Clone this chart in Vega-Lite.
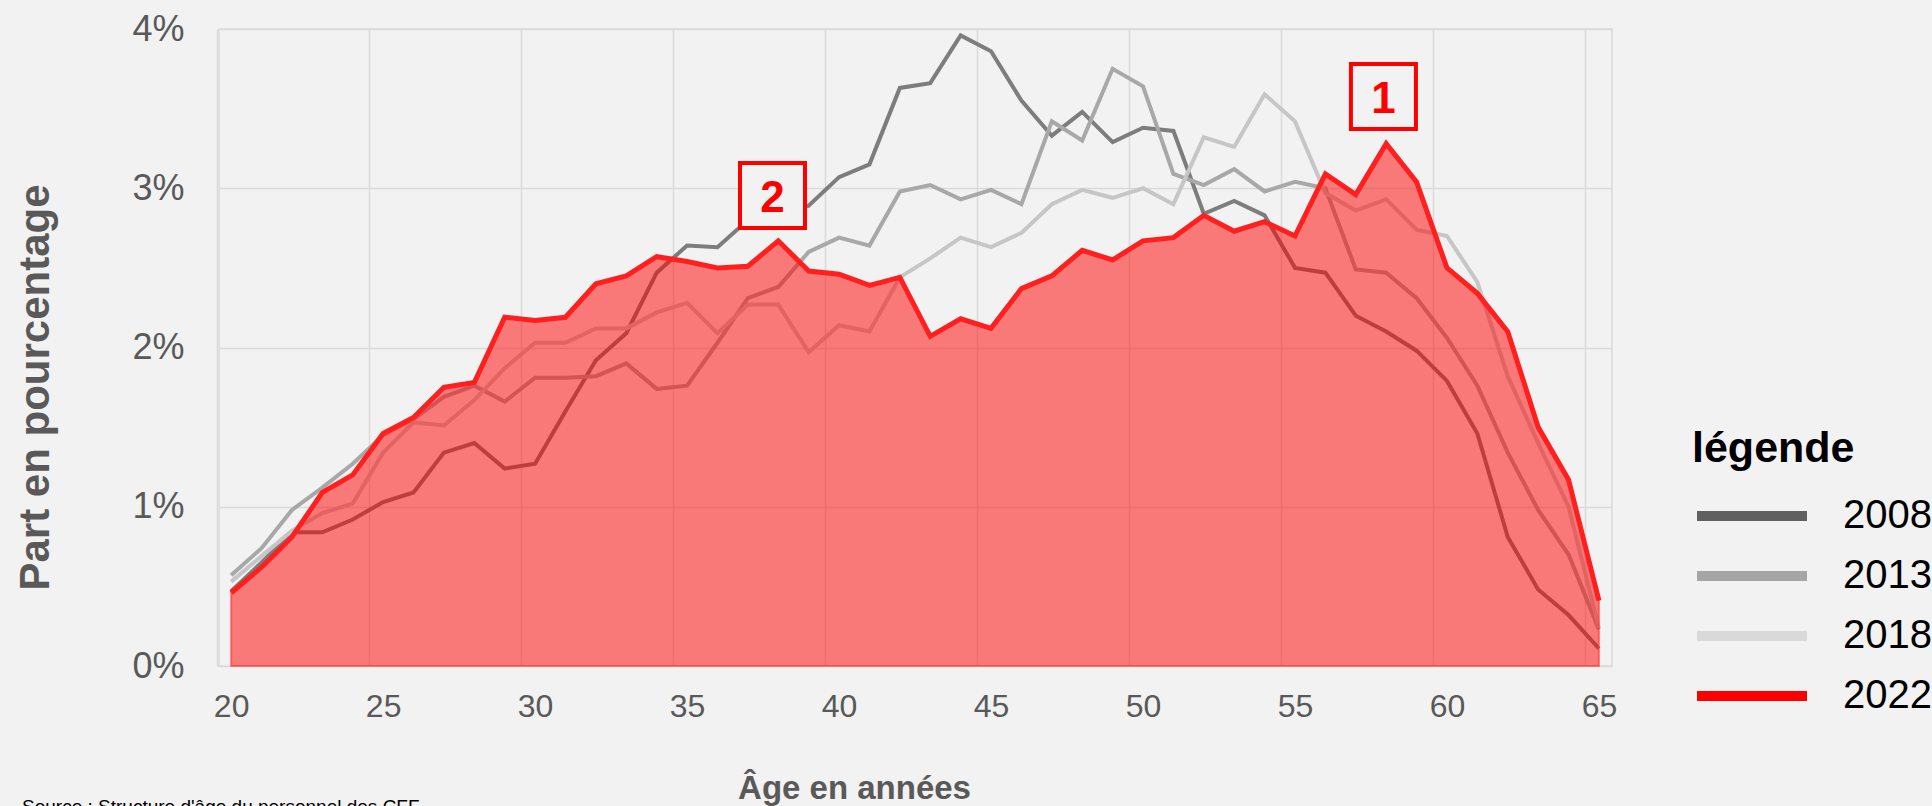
{
"$schema": "https://vega.github.io/schema/vega-lite/v6.json",
"width": 1393,
"height": 637,
"autosize": {"type": "none"},
"padding": {"left": 219, "top": 29, "right": 320, "bottom": 140},
"background": "#f2f2f2",
"title": {"text": "Source : Structure d'âge du personnel des CFF", "orient": "bottom", "anchor": "start", "frame": "bounds", "dx": 8, "offset": -7, "fontSize": 19, "font": "Liberation Sans", "fontWeight": "normal", "color": "#000000", "baseline": "top"},
"config": {
  "view": {"stroke": "#d9d9d9", "strokeWidth": 1.5},
  "font": "Liberation Sans",
  "axis": {"gridColor": "#dadada", "gridWidth": 1.5}
},
"datasets": {
"series": [
{"age":20,"year":"2008","pct":0.47},{"age":21,"year":"2008","pct":0.65},{"age":22,"year":"2008","pct":0.84},{"age":23,"year":"2008","pct":0.84},{"age":24,"year":"2008","pct":0.92},{"age":25,"year":"2008","pct":1.03},{"age":26,"year":"2008","pct":1.09},{"age":27,"year":"2008","pct":1.34},{"age":28,"year":"2008","pct":1.40},{"age":29,"year":"2008","pct":1.24},{"age":30,"year":"2008","pct":1.27},{"age":31,"year":"2008","pct":1.60},{"age":32,"year":"2008","pct":1.92},{"age":33,"year":"2008","pct":2.09},{"age":34,"year":"2008","pct":2.47},{"age":35,"year":"2008","pct":2.64},{"age":36,"year":"2008","pct":2.63},{"age":37,"year":"2008","pct":2.80},{"age":38,"year":"2008","pct":2.84},{"age":39,"year":"2008","pct":2.89},{"age":40,"year":"2008","pct":3.07},{"age":41,"year":"2008","pct":3.15},{"age":42,"year":"2008","pct":3.63},{"age":43,"year":"2008","pct":3.66},{"age":44,"year":"2008","pct":3.96},{"age":45,"year":"2008","pct":3.86},{"age":46,"year":"2008","pct":3.55},{"age":47,"year":"2008","pct":3.33},{"age":48,"year":"2008","pct":3.48},{"age":49,"year":"2008","pct":3.29},{"age":50,"year":"2008","pct":3.38},{"age":51,"year":"2008","pct":3.36},{"age":52,"year":"2008","pct":2.84},{"age":53,"year":"2008","pct":2.92},{"age":54,"year":"2008","pct":2.83},{"age":55,"year":"2008","pct":2.50},{"age":56,"year":"2008","pct":2.47},{"age":57,"year":"2008","pct":2.20},{"age":58,"year":"2008","pct":2.10},{"age":59,"year":"2008","pct":1.98},{"age":60,"year":"2008","pct":1.79},{"age":61,"year":"2008","pct":1.46},{"age":62,"year":"2008","pct":0.81},{"age":63,"year":"2008","pct":0.48},{"age":64,"year":"2008","pct":0.32},{"age":65,"year":"2008","pct":0.11},
{"age":20,"year":"2013","pct":0.57},{"age":21,"year":"2013","pct":0.74},{"age":22,"year":"2013","pct":0.98},{"age":23,"year":"2013","pct":1.12},{"age":24,"year":"2013","pct":1.27},{"age":25,"year":"2013","pct":1.45},{"age":26,"year":"2013","pct":1.55},{"age":27,"year":"2013","pct":1.69},{"age":28,"year":"2013","pct":1.76},{"age":29,"year":"2013","pct":1.66},{"age":30,"year":"2013","pct":1.81},{"age":31,"year":"2013","pct":1.81},{"age":32,"year":"2013","pct":1.82},{"age":33,"year":"2013","pct":1.90},{"age":34,"year":"2013","pct":1.74},{"age":35,"year":"2013","pct":1.76},{"age":36,"year":"2013","pct":2.03},{"age":37,"year":"2013","pct":2.31},{"age":38,"year":"2013","pct":2.38},{"age":39,"year":"2013","pct":2.60},{"age":40,"year":"2013","pct":2.69},{"age":41,"year":"2013","pct":2.64},{"age":42,"year":"2013","pct":2.98},{"age":43,"year":"2013","pct":3.02},{"age":44,"year":"2013","pct":2.93},{"age":45,"year":"2013","pct":2.99},{"age":46,"year":"2013","pct":2.90},{"age":47,"year":"2013","pct":3.42},{"age":48,"year":"2013","pct":3.30},{"age":49,"year":"2013","pct":3.75},{"age":50,"year":"2013","pct":3.64},{"age":51,"year":"2013","pct":3.09},{"age":52,"year":"2013","pct":3.02},{"age":53,"year":"2013","pct":3.12},{"age":54,"year":"2013","pct":2.98},{"age":55,"year":"2013","pct":3.04},{"age":56,"year":"2013","pct":3.00},{"age":57,"year":"2013","pct":2.49},{"age":58,"year":"2013","pct":2.47},{"age":59,"year":"2013","pct":2.31},{"age":60,"year":"2013","pct":2.06},{"age":61,"year":"2013","pct":1.76},{"age":62,"year":"2013","pct":1.34},{"age":63,"year":"2013","pct":0.98},{"age":64,"year":"2013","pct":0.70},{"age":65,"year":"2013","pct":0.23},
{"age":20,"year":"2018","pct":0.53},{"age":21,"year":"2018","pct":0.69},{"age":22,"year":"2018","pct":0.85},{"age":23,"year":"2018","pct":0.96},{"age":24,"year":"2018","pct":1.02},{"age":25,"year":"2018","pct":1.34},{"age":26,"year":"2018","pct":1.53},{"age":27,"year":"2018","pct":1.51},{"age":28,"year":"2018","pct":1.67},{"age":29,"year":"2018","pct":1.87},{"age":30,"year":"2018","pct":2.03},{"age":31,"year":"2018","pct":2.03},{"age":32,"year":"2018","pct":2.12},{"age":33,"year":"2018","pct":2.12},{"age":34,"year":"2018","pct":2.22},{"age":35,"year":"2018","pct":2.28},{"age":36,"year":"2018","pct":2.09},{"age":37,"year":"2018","pct":2.27},{"age":38,"year":"2018","pct":2.27},{"age":39,"year":"2018","pct":1.97},{"age":40,"year":"2018","pct":2.14},{"age":41,"year":"2018","pct":2.10},{"age":42,"year":"2018","pct":2.44},{"age":43,"year":"2018","pct":2.56},{"age":44,"year":"2018","pct":2.69},{"age":45,"year":"2018","pct":2.63},{"age":46,"year":"2018","pct":2.72},{"age":47,"year":"2018","pct":2.90},{"age":48,"year":"2018","pct":2.99},{"age":49,"year":"2018","pct":2.94},{"age":50,"year":"2018","pct":3.00},{"age":51,"year":"2018","pct":2.90},{"age":52,"year":"2018","pct":3.32},{"age":53,"year":"2018","pct":3.26},{"age":54,"year":"2018","pct":3.59},{"age":55,"year":"2018","pct":3.42},{"age":56,"year":"2018","pct":2.97},{"age":57,"year":"2018","pct":2.86},{"age":58,"year":"2018","pct":2.93},{"age":59,"year":"2018","pct":2.74},{"age":60,"year":"2018","pct":2.70},{"age":61,"year":"2018","pct":2.41},{"age":62,"year":"2018","pct":1.82},{"age":63,"year":"2018","pct":1.40},{"age":64,"year":"2018","pct":1.00},{"age":65,"year":"2018","pct":0.24},
{"age":20,"year":"2022","pct":0.46},{"age":21,"year":"2022","pct":0.62},{"age":22,"year":"2022","pct":0.81},{"age":23,"year":"2022","pct":1.09},{"age":24,"year":"2022","pct":1.20},{"age":25,"year":"2022","pct":1.46},{"age":26,"year":"2022","pct":1.56},{"age":27,"year":"2022","pct":1.75},{"age":28,"year":"2022","pct":1.78},{"age":29,"year":"2022","pct":2.19},{"age":30,"year":"2022","pct":2.17},{"age":31,"year":"2022","pct":2.19},{"age":32,"year":"2022","pct":2.40},{"age":33,"year":"2022","pct":2.45},{"age":34,"year":"2022","pct":2.57},{"age":35,"year":"2022","pct":2.54},{"age":36,"year":"2022","pct":2.50},{"age":37,"year":"2022","pct":2.51},{"age":38,"year":"2022","pct":2.67},{"age":39,"year":"2022","pct":2.48},{"age":40,"year":"2022","pct":2.46},{"age":41,"year":"2022","pct":2.39},{"age":42,"year":"2022","pct":2.44},{"age":43,"year":"2022","pct":2.07},{"age":44,"year":"2022","pct":2.18},{"age":45,"year":"2022","pct":2.12},{"age":46,"year":"2022","pct":2.37},{"age":47,"year":"2022","pct":2.45},{"age":48,"year":"2022","pct":2.61},{"age":49,"year":"2022","pct":2.55},{"age":50,"year":"2022","pct":2.67},{"age":51,"year":"2022","pct":2.69},{"age":52,"year":"2022","pct":2.83},{"age":53,"year":"2022","pct":2.73},{"age":54,"year":"2022","pct":2.79},{"age":55,"year":"2022","pct":2.70},{"age":56,"year":"2022","pct":3.09},{"age":57,"year":"2022","pct":2.96},{"age":58,"year":"2022","pct":3.28},{"age":59,"year":"2022","pct":3.04},{"age":60,"year":"2022","pct":2.50},{"age":61,"year":"2022","pct":2.34},{"age":62,"year":"2022","pct":2.10},{"age":63,"year":"2022","pct":1.50},{"age":64,"year":"2022","pct":1.17},{"age":65,"year":"2022","pct":0.41}
],
"notes": [
{"label":"1","age":57.91,"pct":3.576},
{"label":"2","age":37.81,"pct":2.954}
]
},
"encoding": {
  "x": {"field": "age", "type": "quantitative",
    "scale": {"domain": [19.6, 65.43], "nice": false, "zero": false},
    "axis": {"title": "Âge en années", "values": [20,25,30,35,40,45,50,55,60,65], "grid": true, "domain": false, "ticks": false, "tickSize": 0, "tickOffset": -14, "labelOffset": 14, "labelFlush": false, "labelOverlap": false, "labelFontSize": 32, "labelColor": "#595959", "labelPadding": 25, "titleFont": "Liberation Sans", "titleFontSize": 33, "titleFontWeight": "bold", "titleColor": "#595959", "titleX": 635, "titleY": 132, "titleAlign": "center", "titleBaseline": "alphabetic"}},
  "y": {"field": "pct", "type": "quantitative",
    "scale": {"domain": [0, 4], "nice": false},
    "axis": {"title": "Part en pourcentage", "values": [0,1,2,3,4], "labelExpr": "datum.value + '%'", "grid": true, "domain": false, "ticks": false, "tickSize": 0, "labelFontSize": 36, "labelColor": "#595959", "labelPadding": 35, "titleFontSize": 42, "titleFontWeight": "bold", "titleColor": "#595959", "titleX": -171, "titleY": 358, "titleAlign": "center", "titleBaseline": "alphabetic", "titleAngle": -90}}
},
"layer": [
  {"data": {"name": "series"}, "transform": [{"filter": "datum.year == 'aucune'"}],
   "mark": {"type": "line", "strokeWidth": 4},
   "encoding": {"color": {"field": "year", "type": "nominal",
     "scale": {"domain": ["2008","2013","2018","2022"], "range": ["#606060","#a6a6a6","#d9d9d9","#ff0000"]},
     "legend": {"title": "légende", "orient": "none", "legendX": 1473, "legendY": 399, "symbolType": "M-1.5,0L9.5,0", "symbolSize": 400, "symbolStrokeWidth": 10, "symbolOpacity": 1, "labelFontSize": 40, "labelColor": "#000000", "labelOffset": 111, "labelFont": "Liberation Sans", "titleFont": "Liberation Sans", "titleFontSize": 43, "titleColor": "#000000", "titleFontWeight": "bold", "rowPadding": 20, "titlePadding": 25, "padding": 0}}}},
  {"data": {"name": "series"}, "transform": [{"filter": "datum.year != '2022'"}],
   "mark": {"type": "line", "strokeWidth": 4},
   "encoding": {"stroke": {"field": "year", "type": "nominal",
     "scale": {"domain": ["2008","2013","2018","2022"], "range": ["#7d7d7d","#a8a8a8","#c6c6c6","#ff1f1f"]},
     "legend": null}}},
  {"data": {"name": "series"}, "transform": [{"filter": "datum.year == '2022'"}],
   "mark": {"type": "area", "fill": "#ff0000", "fillOpacity": 0.5, "stroke": "#ff3333", "strokeWidth": 2, "strokeOpacity": 0.6}},
  {"data": {"name": "series"}, "transform": [{"filter": "datum.year == '2022'"}],
   "mark": {"type": "line", "strokeWidth": 5},
   "encoding": {"stroke": {"field": "year", "type": "nominal", "legend": null}}},
  {"data": {"name": "notes"},
   "mark": {"type": "point", "shape": "square", "size": 4225, "filled": true, "fill": "#f2f2f2", "stroke": "#ff0000", "strokeWidth": 4, "opacity": 1}},
  {"data": {"name": "notes"},
   "mark": {"type": "text", "fontSize": 44, "fontWeight": "bold", "color": "#ff0000", "baseline": "middle", "align": "center", "dy": 3},
   "encoding": {"text": {"field": "label", "type": "nominal"}}}
]
}
